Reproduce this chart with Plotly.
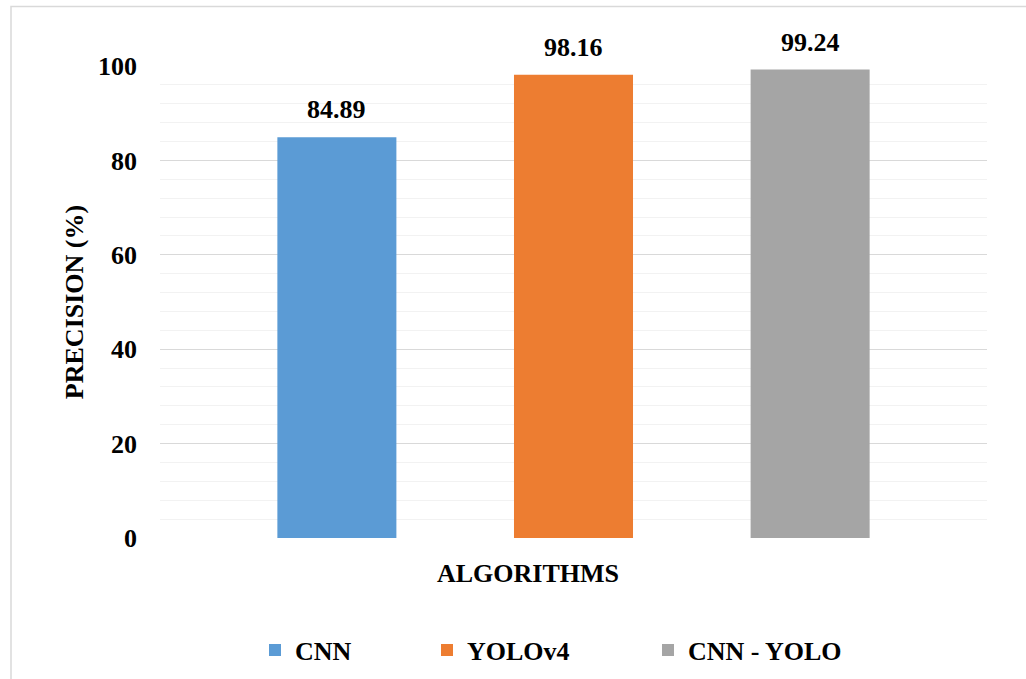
import plotly.graph_objects as go

# Chart data
algorithms = ["CNN", "YOLOv4", "CNN - YOLO"]
precision = [84.89, 98.16, 99.24]
colors = ["#5B9BD5", "#ED7D31", "#A5A5A5"]

FONT = "Liberation Serif"
W, H = 1026, 679
ML, MR, MT, MB = 160, 39, 66, 141
PW = W - ML - MR
PH = H - MT - MB


def px_x(px):
    return (px - ML) / PW


def px_y(py):
    return (H - MB - py) / PH


def bold(size=26):
    return dict(family=FONT, size=size, color="black", weight="bold")


legend_names = ["legend", "legend2", "legend3"]
legend_left = [255, 427, 648]

fig = go.Figure()
for name, val, col, lg in zip(algorithms, precision, colors, legend_names):
    fig.add_trace(go.Bar(
        x=[name], y=[val], name=name, legend=lg,
        marker=dict(color=col, line=dict(width=0)),
    ))
    # value label above each bar
    fig.add_annotation(x=name, y=val, text=f"{val:.2f}", showarrow=False,
                       xanchor="center", yanchor="bottom", yshift=11,
                       font=bold())

legend_style = dict(orientation="h", yref="container", yanchor="middle",
                    y=(H - 650) / H, xanchor="left",
                    font=bold(), bgcolor="rgba(0,0,0,0)", itemwidth=30)
layout_legends = {lg: dict(legend_style, x=px_x(left)) for lg, left in zip(legend_names, legend_left)}

fig.update_layout(
    width=W, height=H,
    margin=dict(l=ML, r=MR, t=MT, b=MB),
    paper_bgcolor="white", plot_bgcolor="white",
    bargap=0.497,
    showlegend=True,
    font=bold(),
    **layout_legends,
)

fig.update_xaxes(range=[-0.7475, 2.7475], showticklabels=False, showgrid=False,
                 showline=False, zeroline=False, ticks="", automargin=False)
fig.update_yaxes(
    range=[0, 100], dtick=20, tick0=0, ticks="", automargin=False,
    showline=False, zeroline=False,
    showgrid=True, gridcolor="#D9D9D9", gridwidth=1.3,
    minor=dict(dtick=4, showgrid=True, gridcolor="#F2F2F2", gridwidth=1.3),
    ticklabelstandoff=22,
    tickfont=bold(),
    title=dict(text="PRECISION (%)", standoff=6, font=bold()),
)

# x-axis title
fig.add_annotation(text="ALGORITHMS", xref="paper", yref="paper",
                   x=px_x(528), y=px_y(573), showarrow=False,
                   xanchor="center", yanchor="middle", font=bold())

# Chart-area border
fig.add_shape(type="rect", xref="paper", yref="paper",
              x0=px_x(11), x1=px_x(1040), y0=px_y(6.5), y1=px_y(700),
              line=dict(color="#D9D9D9", width=1.5), fillcolor="rgba(0,0,0,0)", layer="below")

fig.write_html("out.html")
